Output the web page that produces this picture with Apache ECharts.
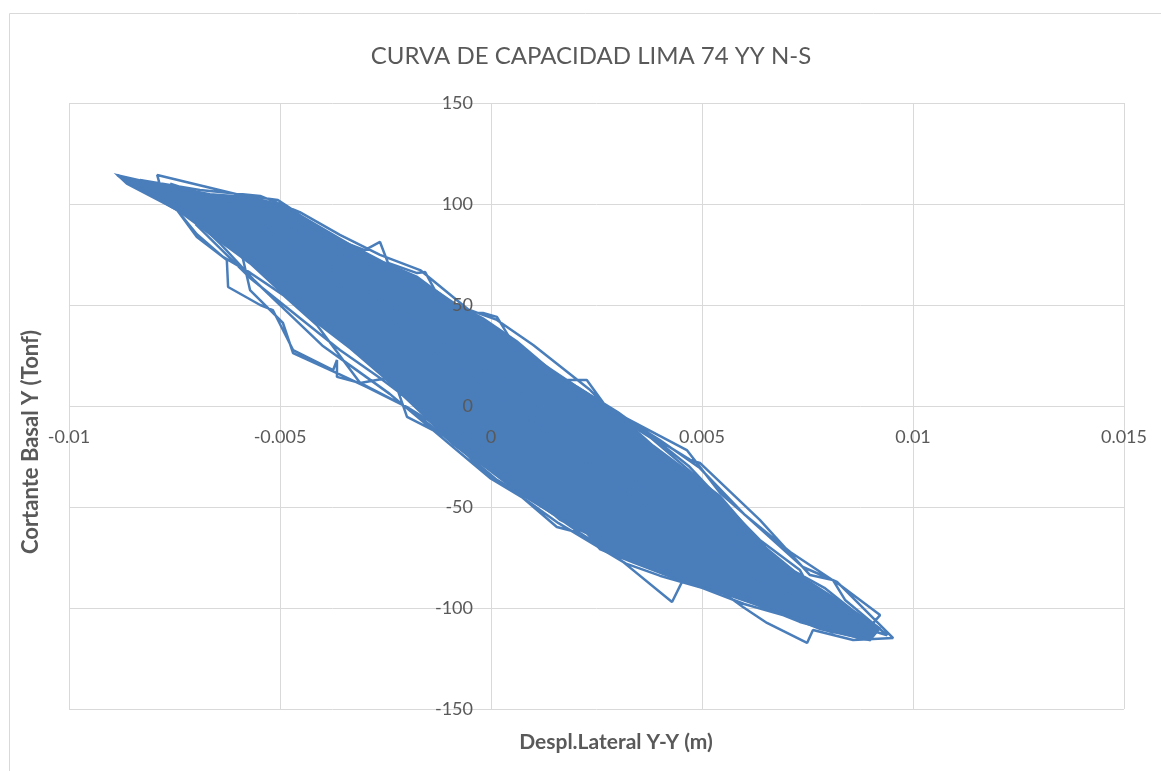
<!DOCTYPE html>
<html>
<head>
<meta charset="utf-8">
<script src="https://cdn.jsdelivr.net/npm/echarts@6/dist/echarts.min.js"></script>
<style>
  html, body { margin: 0; padding: 0; background: #fff; }
  #chart { width: 1161px; height: 771px; }
</style>
</head>
<body>
<div id="chart"></div>
<script>
const titleText = 'CURVA DE CAPACIDAD LIMA 74 YY N-S';
const xName = 'Despl.Lateral Y-Y (m)';
const yName = 'Cortante Basal Y (Tonf)';
const xRange = [-0.01, 0.015, 0.005];
const yRange = [-150, 150, 50];

// lazos: [desplazamiento (m), cortante (Tonf)]
const trace = [
  [-0.00886, 114.4], [-0.00744, 97.0], [-0.00697, 83.7], [-0.00635, 73.8], [-0.00571, 66.0],
  [-0.00493, 55.0], [-0.00412, 40.0], [-0.00310, 11.4], [-0.00199, -0.5], [-0.00090, -18.3],
  [0.00014, -36.6], [0.00109, -48.0], [0.00211, -62.9], [0.00299, -74.8], [0.00384, -77.7],
  [0.00455, -86.1], [0.00519, -87.6], [0.00597, -99.5], [0.00654, -107.4], [0.00749, -117.3],
  [0.00763, -110.9], [0.00858, -115.8], [0.00953, -114.9],
  [0.00820, -87.1], [0.00739, -79.7], [0.00597, -53.0], [0.00543, -43.1], [0.00464, -21.8],
  [0.00275, -1.0], [0.00227, 12.9], [0.00171, 12.9], [0.00062, 27.7], [0.00014, 44.1],
  [-0.00019, 46.0], [-0.00057, 46.5], [-0.00133, 57.4], [-0.00156, 66.3], [-0.00175, 65.8],
  [-0.00244, 70.8], [-0.00263, 81.2], [-0.00299, 77.2], [-0.00351, 81.2], [-0.00412, 87.1],
  [-0.00469, 97.0], [-0.00505, 102.0], [-0.00595, 104.5], [-0.00791, 114.4], [-0.00784, 108.9],
  [-0.00744, 97.0], [-0.00697, 85.0], [-0.00635, 73.8], [-0.00626, 72.3], [-0.00623, 58.9],
  [-0.00547, 50.0], [-0.00517, 47.5], [-0.00469, 27.7], [-0.00374, 17.8], [-0.00365, 22.8],
  [-0.00365, 14.4], [-0.00310, 11.4], [-0.00232, 14.4], [-0.00199, -5.4], [-0.00090, -17.0],
  [-0.00009, -34.2], [0.00062, -43.1], [0.00156, -59.9], [0.00211, -62.9], [0.00275, -71.3],
  [0.00299, -74.8], [0.00429, -97.0], [0.00455, -86.1], [0.00637, -96.0], [0.00780, -109.9],
  [0.00846, -110.9], [0.00846, -103.5], [0.00858, -108.4], [0.00939, -113.5],
  [0.00839, -96.0], [0.00810, -86.1], [0.00756, -83.7], [0.00637, -56.4], [0.00495, -28.2],
  [0.00472, -26.7], [0.00282, -2.0], [0.00235, 7.9], [0.00100, 30.2], [0.00014, 42.6],
  [-0.00090, 50.5], [-0.00200, 60.0], [-0.00320, 72.0], [-0.00420, 84.0], [-0.00520, 96.0],
  [-0.00620, 102.0], [-0.00700, 106.0], [-0.00760, 110.0],
  [-0.00680, 96.0], [-0.00600, 84.0], [-0.00571, 57.4], [-0.00493, 41.1], [-0.00469, 26.2],
  [-0.00365, 16.3], [-0.00294, 9.4], [-0.00199, -0.5], [-0.00110, -12.0], [0.00000, -30.0],
  [0.00100, -45.0], [0.00164, -56.4], [0.00211, -61.4], [0.00300, -70.0], [0.00400, -80.0],
  [0.00500, -88.0], [0.00600, -96.0], [0.00732, -103.0], [0.00800, -107.0],
  [0.00732, -81.2], [0.00637, -66.3], [0.00560, -50.0], [0.00470, -30.0], [0.00380, -15.0],
  [0.00300, -3.0], [0.00200, 10.0], [0.00100, 24.0], [0.00000, 38.0], [-0.00100, 50.0],
  [-0.00200, 62.0], [-0.00300, 74.0], [-0.00400, 84.0], [-0.00500, 95.0], [-0.00600, 100.0],
  [-0.00550, 90.0], [-0.00450, 75.0], [-0.00350, 58.0], [-0.00250, 44.0], [-0.00150, 30.0],
  [-0.00050, 15.0], [0.00050, 0.0], [0.00150, -16.0], [0.00250, -32.0], [0.00350, -48.0],
  [0.00450, -62.0], [0.00550, -76.0], [0.00650, -88.0], [0.00720, -95.0], [0.00790, -102.0],
  [0.00860, -106.0], [0.00910, -112.0],
  [0.00800, -95.0], [0.00700, -84.0], [0.00600, -72.0], [0.00500, -60.0], [0.00400, -46.0],
  [0.00300, -30.0], [0.00200, -14.0], [0.00100, 2.0], [0.00000, 16.0], [-0.00100, 30.0],
  [-0.00200, 44.0], [-0.00300, 58.0], [-0.00400, 72.0], [-0.00500, 86.0], [-0.00600, 96.0],
  [-0.00700, 104.0],
  [-0.00640, 100.0], [-0.00560, 101.0], [-0.00480, 90.0], [-0.00420, 80.0], [-0.00330, 76.0],
  [-0.00240, 66.0], [-0.00150, 57.0], [-0.00060, 44.0], [0.00040, 34.0], [0.00120, 20.0],
  [0.00200, 8.0], [0.00290, -4.0], [0.00380, -16.0], [0.00470, -32.0], [0.00560, -50.0],
  [0.00650, -70.0], [0.00720, -82.0], [0.00790, -90.0], [0.00850, -100.0], [0.00900, -110.0],
  [0.00810, -112.0], [0.00700, -104.0], [0.00600, -98.0], [0.00500, -90.0], [0.00400, -84.0],
  [0.00320, -78.0], [0.00240, -68.0], [0.00160, -58.0], [0.00080, -46.0], [0.00000, -36.0],
  [-0.00080, -22.0], [-0.00160, -8.0], [-0.00240, 6.0], [-0.00320, 18.0], [-0.00400, 30.0],
  [-0.00480, 46.0], [-0.00560, 62.0], [-0.00640, 80.0], [-0.00720, 96.0], [-0.00820, 110.0],
  [-0.00832, 111.9], [-0.00690, 106.9], [-0.00547, 104.0], [-0.00453, 96.0], [-0.00358, 84.7],
  [-0.00263, 74.8], [-0.00168, 67.3], [0.00069, 26.7], [0.00187, 10.4], [0.00287, -2.0],
  [0.00400, -16.8], [0.00495, -30.7], [0.00602, -54.0], [0.00709, -72.3], [0.00827, -88.6],
  [0.00922, -103.5], [0.00874, -114.9], [0.00732, -106.9], [0.00590, -95.0], [0.00448, -83.7],
  [0.00306, -72.3], [-0.00073, -12.9], [-0.00168, -1.0], [-0.00263, 13.9], [-0.00358, 27.7],
  [-0.00453, 43.6], [-0.00571, 63.4], [-0.00700, 90.0]
];

// zona donde las curvas se superponen por completo (contorno)
const core = [
  [-0.00886, 114.4], [-0.00784, 109.5], [-0.00666, 105.0], [-0.00571, 103.5], [-0.00493, 99.5],
  [-0.00412, 89.5], [-0.00334, 80.0], [-0.00256, 71.5], [-0.00175, 64.0], [-0.00097, 52.0],
  [-0.00019, 43.5], [0.00062, 32.0], [0.00147, 17.0], [0.00227, 6.5], [0.00306, -5.0],
  [0.00384, -19.5], [0.00464, -32.0], [0.00543, -44.5], [0.00654, -71.5], [0.00732, -84.0],
  [0.00810, -94.5], [0.00922, -110.0],
  [0.00898, -116.0], [0.00780, -110.5], [0.00692, -103.0], [0.00573, -94.5], [0.00455, -87.0],
  [0.00336, -77.5], [0.00258, -71.0], [0.00227, -63.0], [0.00147, -53.5], [0.00069, -43.5],
  [-0.00009, -31.0], [-0.00090, -19.0], [-0.00168, -3.0], [-0.00256, 14.5], [-0.00334, 28.5],
  [-0.00412, 41.0], [-0.00493, 55.5], [-0.00571, 70.5], [-0.00666, 85.0], [-0.00744, 97.0],
  [-0.00863, 110.0]
];

const blue = '#4a7ebb';
const gray = '#d9d9d9';
const textGray = '#595959';
const font = 'Lato, "Open Sans", sans-serif';
const plotBox = { left: 69, top: 103, width: 1055, height: 606, containLabel: false };
// desplazamiento de las etiquetas hasta los ejes en cero
const xLabelShift = -plotBox.height / 2;
const yLabelShift = -plotBox.width * (0 - xRange[0]) / (xRange[1] - xRange[0]);

var myChart = echarts.init(document.getElementById('chart'));
myChart.setOption({
  animation: false,
  // grid 0: curva y etiquetas (encima); grid 1: solo la rejilla (debajo)
  grid: [Object.assign({}, plotBox), Object.assign({}, plotBox)],
  graphic: [
    { type: 'rect', shape: { x: 9.5, y: 13.5, width: 1300, height: 900 },
      style: { fill: 'none', stroke: gray, lineWidth: 1 }, z: -10 },
    { type: 'text', x: 591, y: 56,
      style: { text: titleText, fontSize: 24, fontFamily: font, fill: textGray,
               textAlign: 'center', textVerticalAlign: 'middle' } },
    { type: 'text', x: 616, y: 742,
      style: { text: xName, fontSize: 21, fontWeight: 'bold', fontFamily: font, fill: textGray,
               textAlign: 'center', textVerticalAlign: 'middle' } },
    { type: 'text', x: 31, y: 442, rotation: Math.PI / 2,
      style: { text: yName, fontSize: 22, fontWeight: 'bold', fontFamily: font, fill: textGray,
               textAlign: 'center', textVerticalAlign: 'middle' } }
  ],
  xAxis: [{
    gridIndex: 0, type: 'value', min: xRange[0], max: xRange[1], interval: xRange[2], z: 10,
    position: 'bottom', offset: xLabelShift,
    axisLine: { show: false, onZero: false },
    axisTick: { show: false },
    splitLine: { show: false },
    axisLabel: { color: textGray, fontSize: 18, fontFamily: font, margin: 22 }
  }, {
    gridIndex: 1, type: 'value', min: xRange[0], max: xRange[1], interval: xRange[2], z: 0,
    axisLine: { show: false },
    axisTick: { show: false },
    axisLabel: { show: false },
    splitLine: { lineStyle: { color: gray } }
  }],
  yAxis: [{
    gridIndex: 0, type: 'value', min: yRange[0], max: yRange[1], interval: yRange[2], z: 10,
    position: 'left', offset: yLabelShift,
    axisLine: { show: false, onZero: false },
    axisTick: { show: false },
    splitLine: { show: false },
    axisLabel: { color: textGray, fontSize: 18, fontFamily: font, margin: 18 }
  }, {
    gridIndex: 1, type: 'value', min: yRange[0], max: yRange[1], interval: yRange[2], z: 0,
    axisLine: { show: false },
    axisTick: { show: false },
    axisLabel: { show: false },
    splitLine: { lineStyle: { color: gray } }
  }],
  series: [{
    type: 'custom',
    xAxisIndex: 0, yAxisIndex: 0,
    data: core,
    encode: { x: 0, y: 1 },
    z: 2,
    renderItem(params, api) {
      if (params.dataIndex !== 0) return null;
      return {
        type: 'polygon',
        shape: { points: core.map(p => api.coord(p)) },
        style: { fill: blue, stroke: blue, lineWidth: 2 }
      };
    }
  }, {
    type: 'line',
    xAxisIndex: 0, yAxisIndex: 0,
    data: trace,
    showSymbol: false,
    symbol: 'none',
    z: 3,
    lineStyle: { color: blue, width: 2.5 },
    emphasis: { disabled: true }
  }]
});
</script>
</body>
</html>
